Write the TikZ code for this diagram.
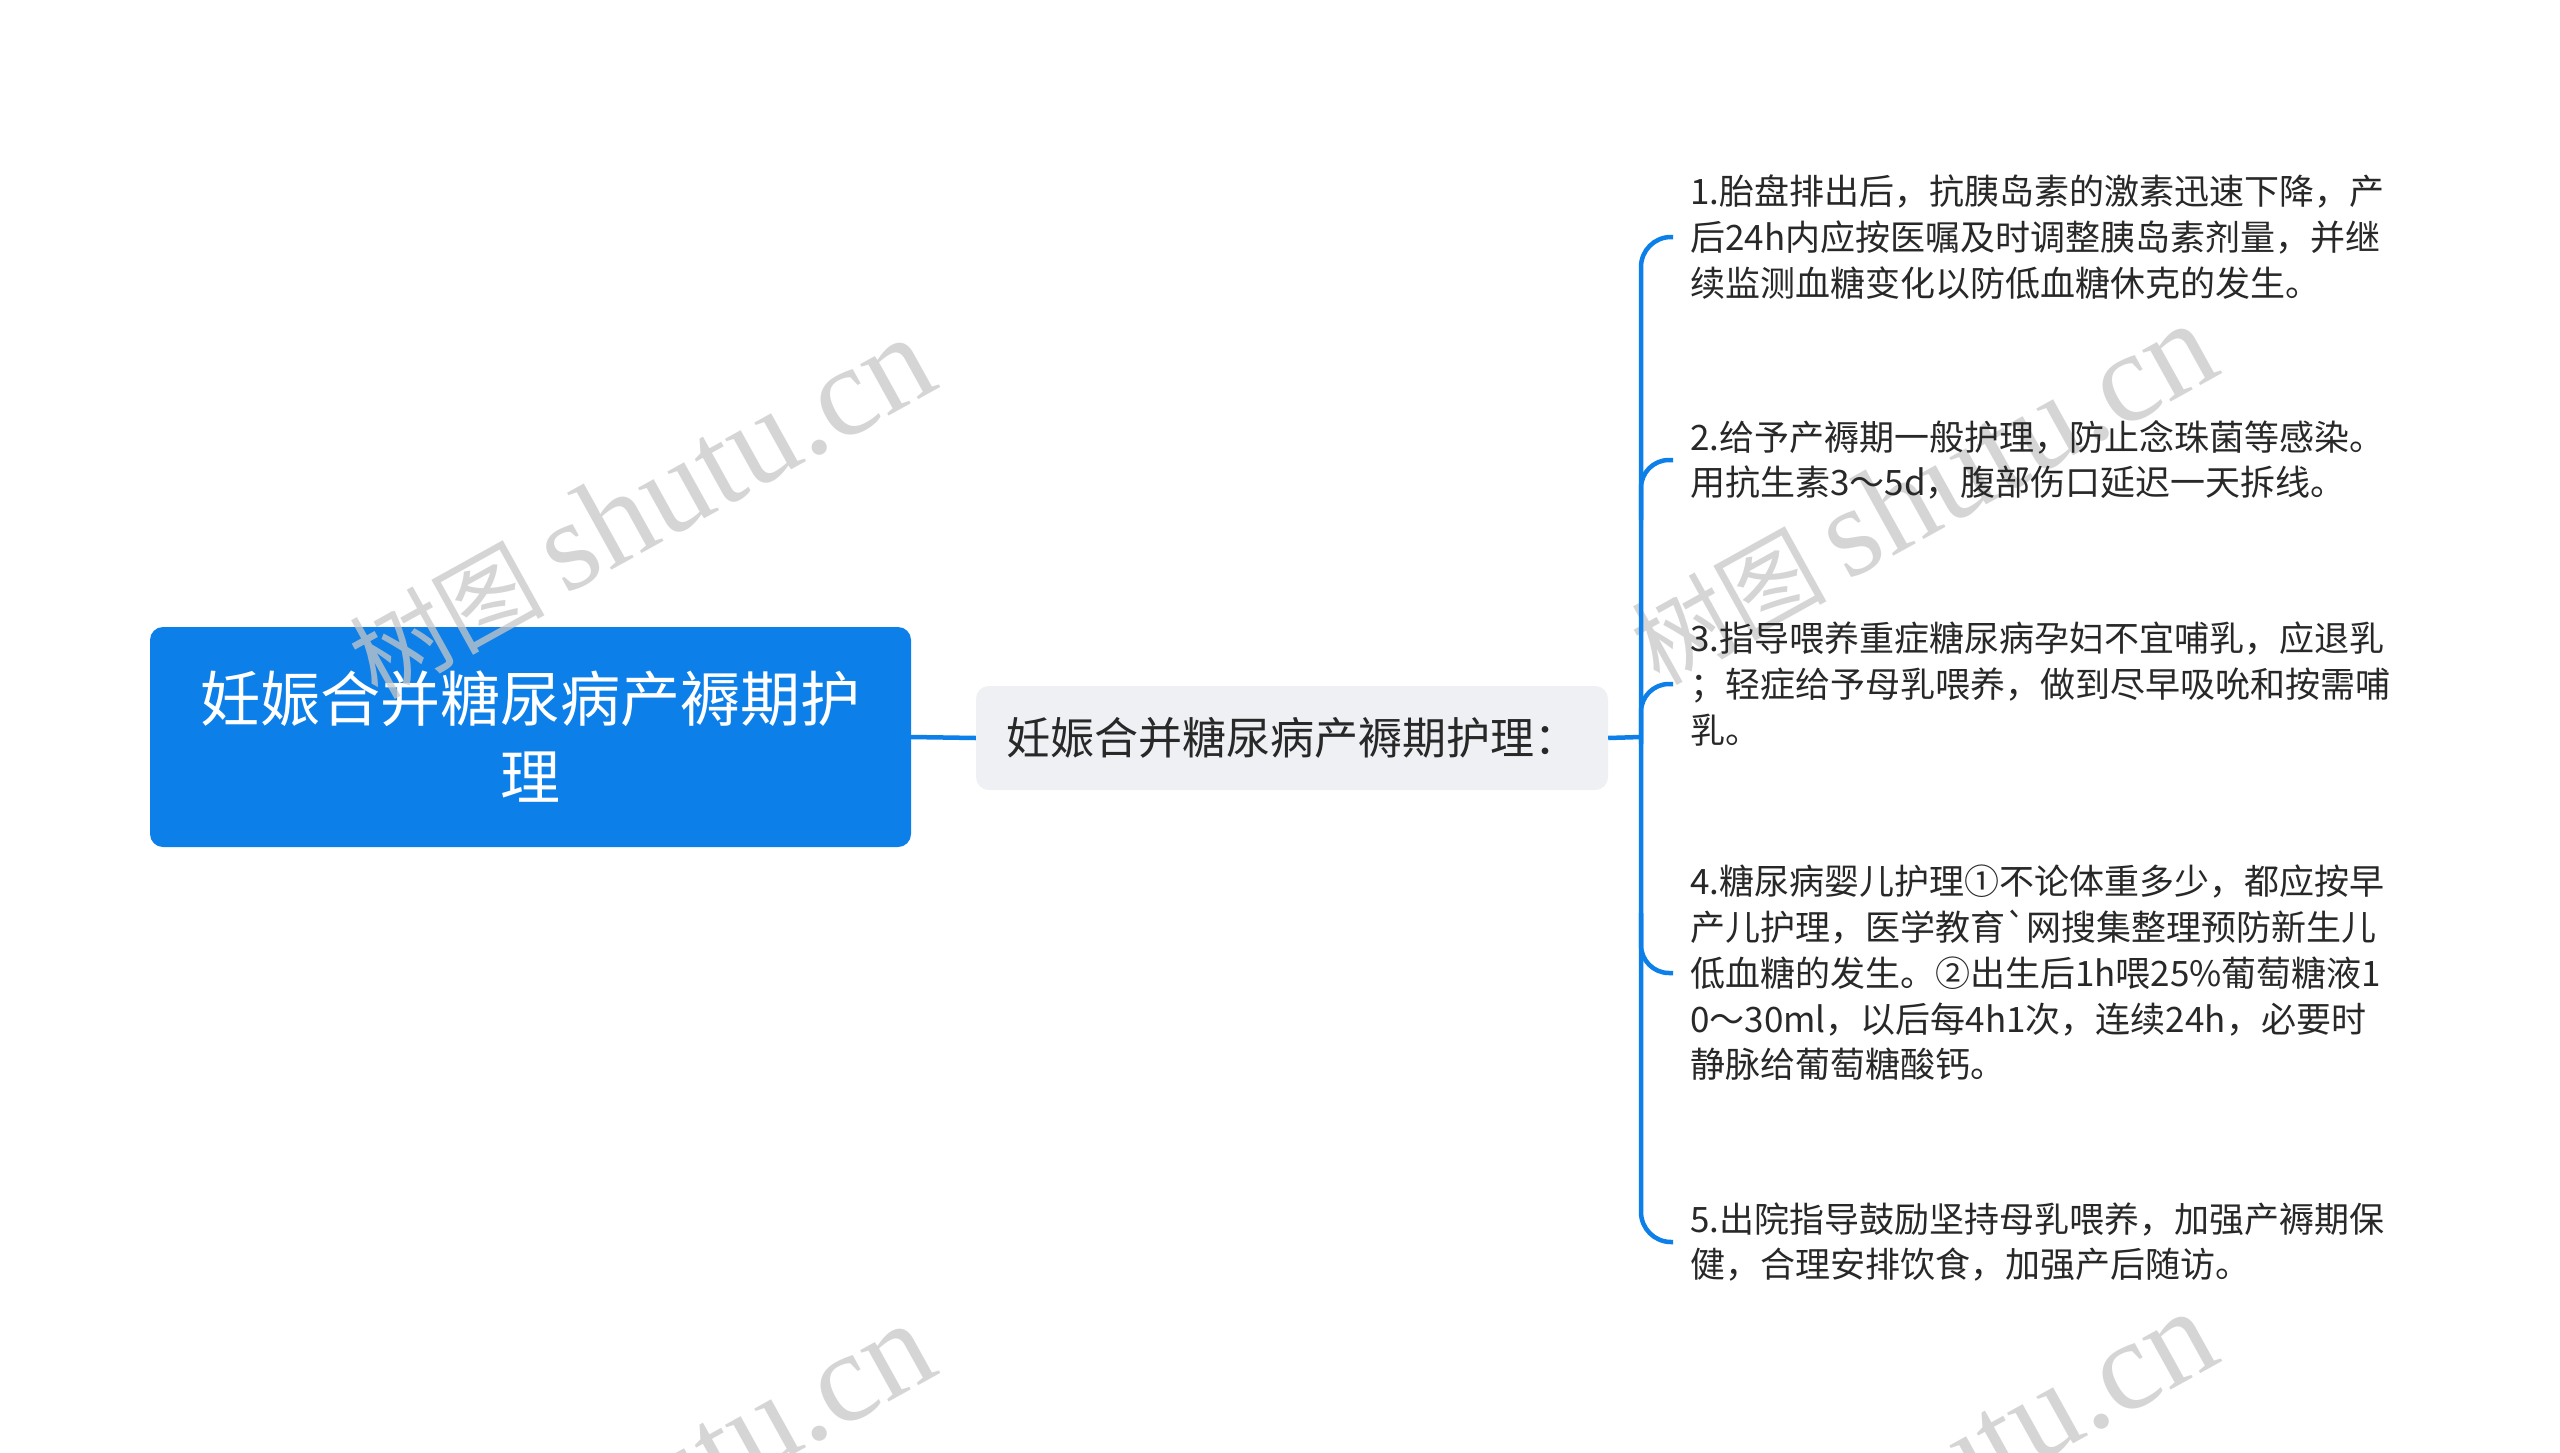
\documentclass[tikz,border=0pt]{standalone}
\usepackage{fontspec}
\setmainfont{Noto Sans CJK SC}
\newfontfamily\nomap{Noto Sans CJK SC}[Ligatures=TeXOff]
\newfontfamily\wmcjk{Noto Sans CJK SC}
\newfontfamily\wmlat{Liberation Serif}
\usetikzlibrary{calc}
\definecolor{mainblue}{RGB}{12,127,233}
\definecolor{midgray}{RGB}{238,240,243}
\definecolor{textdark}{RGB}{40,40,40}
\definecolor{wmgray}{RGB}{200,200,200}
\tikzset{
  rootbox/.style={fill=mainblue, rounded corners=13pt, minimum width=761pt, minimum height=220pt,
    text=white, align=center, inner sep=0pt, font=\fontsize{60}{78}\selectfont},
  midbox/.style={fill=midgray, rounded corners=13pt, minimum width=632pt, minimum height=104pt,
    text=textdark, inner sep=0pt, font=\fontsize{44}{52}\selectfont},
  leaf/.style={anchor=west, align=left, inner xsep=17pt, inner ysep=0pt, text=textdark,
    font=\fontsize{35}{45.7}\selectfont},
  conn/.style={draw=mainblue, line width=4.5pt},
  wm/.style={rotate=29, text=wmgray, opacity=0.75, inner sep=0pt, font=\fontsize{128}{128}\selectfont}
}
\newcommand{\wmtext}{{\wmcjk\fontsize{98}{98}\selectfont 树图}\hspace{20pt}{\wmlat shutu.cn}}
\begin{document}
\begin{tikzpicture}[x=1pt,y=-1pt]
\useasboundingbox (0,0) rectangle (2560,1453);
\clip (0,0) rectangle (2560,1453);
\fill[white] (0,0) rectangle (2560,1453);

\node[rootbox] (root) at (530.5,737) {妊娠合并糖尿病产褥期护\\理};
\node[midbox] (mid) at (1292,738) {妊娠合并糖尿病产褥期护理：};

\node[wm] (wm1) at (640,508) {\wmtext};
\node[wm] (wm2) at (1922,494) {\wmtext};
\node[wm] (wm3) at (640,1494) {\wmtext};
\node[wm] (wm4) at (1922,1482) {\wmtext};

\node[leaf] (l1) at (1673,237) {1.胎盘排出后，抗胰岛素的激素迅速下降，产\\后24h内应按医嘱及时调整胰岛素剂量，并继\\续监测血糖变化以防低血糖休克的发生。};
\node[leaf] (l2) at (1673,460) {2.给予产褥期一般护理，防止念珠菌等感染。\\用抗生素3～5d，腹部伤口延迟一天拆线。};
\node[leaf] (l3) at (1673,684) {3.指导喂养重症糖尿病孕妇不宜哺乳，应退乳\\；轻症给予母乳喂养，做到尽早吸吮和按需哺\\乳。};
\node[leaf] (l4) at (1673,973) {4.糖尿病婴儿护理①不论体重多少，都应按早\\产儿护理，医学教育{\nomap`}网搜集整理预防新生儿\\低血糖的发生。②出生后1h喂25\%葡萄糖液1\\0～30ml，以后每4h1次，连续24h，必要时\\静脉给葡萄糖酸钙。};
\node[leaf] (l5) at (1673,1242) {5.出院指导鼓励坚持母乳喂养，加强产褥期保\\健，合理安排饮食，加强产后随访。};

\coordinate (sp) at (1641,737);
\draw[conn] (root.east) -- (mid.west);
\draw[conn] (mid.east) -- (sp);
\draw[conn, rounded corners=30pt] (l1.west) -| (sp) |- (l5.west);
\draw[conn, rounded corners=28pt] ($(l2.west -| sp)+(0,60)$) -- (l2.west -| sp) -- (l2.west);
\draw[conn, rounded corners=28pt] ($(l3.west -| sp)+(0,60)$) -- (l3.west -| sp) -- (l3.west);
\draw[conn, rounded corners=28pt] ($(l4.west -| sp)+(0,-60)$) -- (l4.west -| sp) -- (l4.west);
\end{tikzpicture}
\end{document}
